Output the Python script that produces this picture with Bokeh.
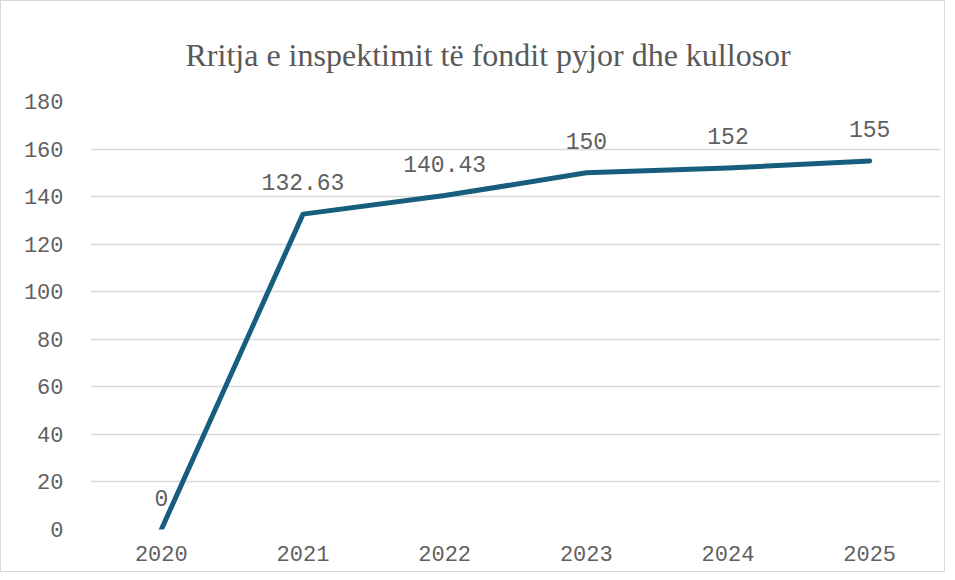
from bokeh.plotting import figure
from bokeh.models import ColumnDataSource, FixedTicker, Range1d, LabelSet
from bokeh.core.properties import value
from bokeh.embed import file_html
from bokeh.resources import INLINE

years = [2020, 2021, 2022, 2023, 2024, 2025]
values = [0, 132.63, 140.43, 150, 152, 155]
labels = ["0", "132.63", "140.43", "150", "152", "155"]
y_ticks = [0, 20, 40, 60, 80, 100, 120, 140, 160, 180]

src = ColumnDataSource(dict(x=years, y=values, lbl=labels))

p = figure(width=945, height=572, output_backend="svg", toolbar_location=None,
           x_range=Range1d(2019.5, 2025.5), y_range=Range1d(0, 180),
           min_border_left=89, min_border_right=6, min_border_bottom=44, min_border_top=100)
p.styles = {"border": "1px solid #d9d9d9"}
p.outline_line_color = None
p.background_fill_color = "white"

p.title.text = "Rritja e inspektimit të fondit pyjor dhe kullosor"
p.title.align = "left"
p.title.text_font = "Liberation Serif"
p.title.text_font_style = "normal"
p.title.text_font_size = "32px"
p.title.text_color = "#595959"
p.title.offset = 95
p.title.standoff = 58

p.line("x", "y", source=src, line_color="#175e7e", line_width=5, line_join="round", line_cap="round")

p.add_layout(LabelSet(x="x", y="y", text="lbl", source=src, text_align="center",
                      text_baseline="middle", y_offset=32, text_font=value("Liberation Mono"),
                      text_font_size="23px", text_color="#606060"))

for ax in (p.xaxis, p.yaxis):
    ax.axis_line_color = None
    ax.major_tick_line_color = None
    ax.minor_tick_line_color = None
    ax.major_label_text_font = "Liberation Mono"
    ax.major_label_text_font_size = "22px"
    ax.major_label_text_color = "#606060"

p.xaxis.ticker = FixedTicker(ticks=years)
p.yaxis.ticker = FixedTicker(ticks=y_ticks)
p.yaxis.major_label_standoff = 21
p.xaxis.major_label_standoff = 10

p.xgrid.grid_line_color = None
p.ygrid.grid_line_color = "#d9d9d9"
p.ygrid.grid_line_width = 1.5

open("out.html", "w").write(file_html(p, INLINE))
